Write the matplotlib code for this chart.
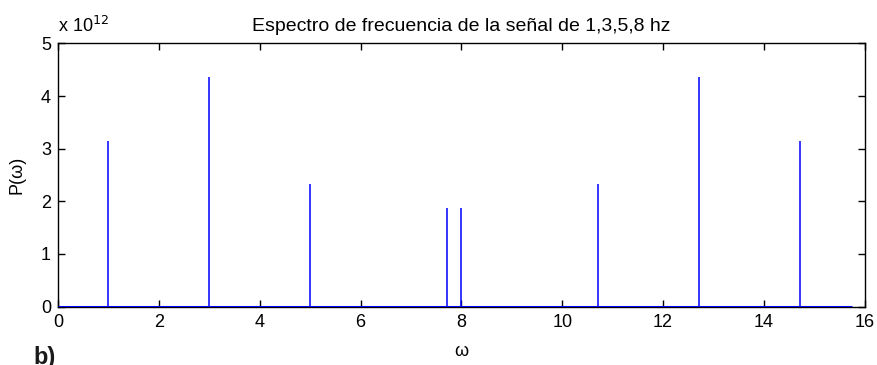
import matplotlib
matplotlib.use('Agg')
import matplotlib.pyplot as plt
from matplotlib.ticker import FuncFormatter

# spectrum peaks (rad/s) and their power
omega_peaks = [1.0, 3.0, 5.0, 7.71, 8.0, 10.71, 12.71, 14.71]
power_peaks = [3.15e12, 4.36e12, 2.32e12, 1.87e12, 1.87e12, 2.32e12, 4.36e12, 3.15e12]
omega_end = 15.75
scale = 1e12

plt.rcParams['font.family'] = ['Liberation Sans', 'DejaVu Sans']
plt.rcParams['font.size'] = 13

fig = plt.figure(figsize=(8.78, 3.65), dpi=100)
ax = fig.add_axes([0.066, 0.160, 0.919, 0.721])

blue = '#0000ff'
ax.hlines(0, 0, omega_end, color=blue, linewidth=2.2, zorder=3)
ax.vlines(omega_peaks, 0, power_peaks, color=blue, linewidth=1.1, zorder=3)

ax.set_xlim(0, 16)
ax.set_ylim(0, 5 * scale)
ax.set_xticks(range(0, 17, 2))
ax.set_yticks([i * scale for i in range(6)])
ax.yaxis.set_major_formatter(FuncFormatter(lambda v, p: f'{v / scale:g}'))
ax.tick_params(direction='in', top=True, right=True, length=5, width=1,
               labelsize=13, pad=5)
for sp in ax.spines.values():
    sp.set_linewidth(1.0)

ax.set_title('Espectro de frecuencia de la señal de 1,3,5,8 hz', fontsize=14, pad=9)
ax.set_xlabel('ω', labelpad=9)
ax.set_ylabel('P(ω)', labelpad=11)
ax.text(0.0, 1.03, 'x 10$^{12}$', transform=ax.transAxes, fontsize=13,
        ha='left', va='bottom')

fig.text(0.038, 0.052, 'b)', fontsize=17, fontweight='bold', color='#1a1a1a',
         ha='left', va='top')

fig.savefig('out.png', dpi=100)
